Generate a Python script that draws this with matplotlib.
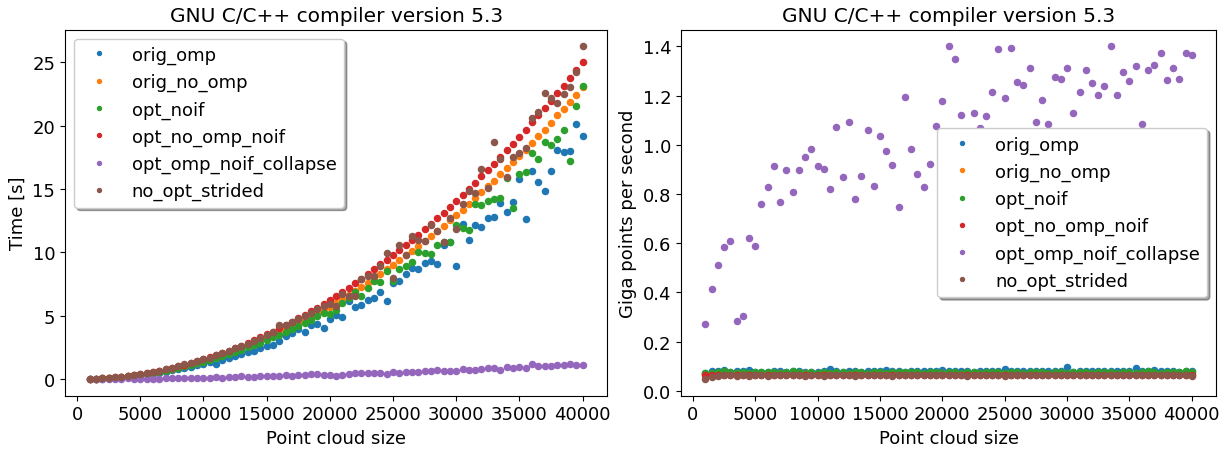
import matplotlib
matplotlib.use('Agg')
import matplotlib.pyplot as plt

# ---------------------------------------------------------------------------
# Data
# ---------------------------------------------------------------------------
sizes = [1000 + 500 * i for i in range(79)]

labels = ['orig_omp', 'orig_no_omp', 'opt_noif', 'opt_no_omp_noif',
          'opt_omp_noif_collapse', 'no_opt_strided']
TITLE = 'GNU C/C++ compiler version 5.3'

# run time [s]
t_orig_omp = [
    0.02, 0.03, 0.05, 0.08, 0.11, 0.15, 0.20, 0.25, 0.31, 0.37,
    0.44, 0.51, 0.60, 0.69, 0.77, 0.88, 0.98, 1.08, 1.20, 1.33,
    1.23, 1.55, 1.70, 1.82, 1.98, 2.12, 2.20, 2.47, 2.62, 2.73,
    2.98, 3.41, 3.67, 3.98, 3.72, 4.24, 4.37, 4.06, 4.76, 5.08,
    4.87, 6.15, 5.71, 5.89, 6.26, 6.44, 6.86, 6.18, 7.57, 7.75,
    8.27, 8.74, 8.69, 9.16, 9.34, 9.06, 10.57, 10.79, 8.95, 12.25,
    10.94, 12.14, 12.04, 12.75, 12.83, 13.87, 13.19, 14.00, 15.83, 12.67,
    16.46, 15.54, 14.81, 16.46, 18.06, 17.93, 17.97, 20.13, 19.18]
t_orig_no_omp = [
    0.02, 0.03, 0.06, 0.09, 0.13, 0.18, 0.24, 0.29, 0.36, 0.44,
    0.52, 0.61, 0.71, 0.82, 0.93, 1.05, 1.17, 1.30, 1.44, 1.59,
    1.75, 1.91, 2.08, 2.25, 2.44, 2.63, 2.83, 3.03, 3.24, 3.46,
    3.69, 3.92, 4.16, 4.41, 4.67, 4.93, 5.19, 5.47, 5.71, 6.02,
    6.30, 6.62, 6.95, 7.28, 7.62, 7.98, 8.32, 8.68, 9.02, 9.38,
    9.76, 10.13, 10.51, 10.90, 11.30, 11.71, 12.12, 12.55, 12.98, 13.37,
    13.82, 14.26, 14.76, 15.20, 15.67, 16.15, 16.64, 17.14, 17.58, 18.05,
    18.63, 19.15, 19.68, 20.20, 20.80, 21.33, 21.88, 22.42, 23.08]
t_opt_noif = [
    0.02, 0.03, 0.06, 0.09, 0.12, 0.17, 0.23, 0.28, 0.35, 0.42,
    0.50, 0.58, 0.68, 0.78, 0.89, 1.00, 1.12, 1.24, 1.38, 1.52,
    1.66, 1.83, 1.98, 2.16, 2.33, 2.52, 2.70, 2.89, 3.10, 3.31,
    3.52, 3.74, 3.97, 4.22, 4.45, 4.70, 4.96, 5.24, 5.16, 5.42,
    6.00, 6.44, 6.88, 6.55, 7.20, 7.75, 7.70, 8.50, 7.72, 8.69,
    8.95, 9.21, 10.00, 9.94, 9.87, 10.57, 10.86, 10.83, 12.20, 11.91,
    11.73, 13.79, 13.74, 14.08, 14.21, 14.26, 15.90, 13.48, 16.17, 16.36,
    17.82, 17.38, 18.71, 18.45, 18.95, 19.68, 17.22, 21.54, 23.13]
t_opt_no_omp_noif = [
    0.02, 0.04, 0.07, 0.10, 0.15, 0.20, 0.26, 0.32, 0.40, 0.48,
    0.57, 0.67, 0.78, 0.89, 1.01, 1.14, 1.27, 1.42, 1.57, 1.74,
    1.90, 2.08, 2.26, 2.45, 2.65, 2.86, 3.07, 3.30, 3.53, 3.76,
    4.01, 4.26, 4.53, 4.80, 5.08, 5.36, 5.65, 5.95, 6.28, 6.59,
    6.91, 7.22, 7.57, 7.93, 8.32, 8.69, 9.06, 9.40, 9.76, 10.18,
    10.57, 10.97, 11.41, 11.83, 12.28, 12.69, 13.14, 13.58, 14.08, 14.52,
    15.02, 15.49, 16.01, 16.48, 17.01, 17.53, 18.05, 18.58, 19.13, 19.68,
    20.25, 20.80, 21.38, 21.98, 22.58, 23.16, 23.73, 24.39, 25.00]
t_opt_omp_noif_collapse = [
    0.004, 0.005, 0.008, 0.011, 0.015, 0.043, 0.053, 0.033, 0.043, 0.040,
    0.043, 0.046, 0.064, 0.063, 0.079, 0.081, 0.085, 0.092, 0.109, 0.122,
    0.148, 0.123, 0.166, 0.143, 0.217, 0.209, 0.185, 0.252, 0.218, 0.247,
    0.278, 0.363, 0.242, 0.312, 0.368, 0.414, 0.391, 0.353, 0.31, 0.27,
    0.31, 0.39, 0.50, 0.45, 0.50, 0.50, 0.45, 0.42, 0.53, 0.45,
    0.55, 0.58, 0.58, 0.68, 0.66, 0.74, 0.66, 0.66, 0.66, 0.82,
    0.76, 0.76, 0.79, 0.86, 0.86, 0.76, 0.97, 0.89, 0.94, 0.92,
    1.23, 1.02, 1.00, 1.02, 1.13, 1.13, 1.21, 1.13, 1.15]
t_no_opt_strided = [
    0.02, 0.04, 0.07, 0.10, 0.15, 0.20, 0.26, 0.33, 0.40, 0.50,
    0.58, 0.68, 0.80, 0.91, 1.02, 1.16, 1.30, 1.42, 1.58, 1.70,
    1.92, 2.05, 2.22, 2.47, 2.63, 2.80, 3.00, 3.24, 3.45, 3.72,
    4.29, 4.29, 4.50, 4.72, 4.98, 5.20, 5.55, 5.75, 5.94, 5.76,
    6.73, 6.59, 6.59, 7.90, 8.12, 8.12, 8.95, 9.94, 7.98, 10.57,
    9.79, 11.26, 10.94, 10.91, 12.17, 11.70, 10.86, 12.69, 11.83, 13.85,
    14.84, 14.71, 16.56, 15.10, 18.74, 17.40, 15.93, 17.50, 17.85, 18.21,
    20.57, 21.09, 22.58, 22.21, 21.77, 22.50, 23.08, 24.20, 26.27]

# throughput [Giga points per second]
g_orig_omp = [
    0.072, 0.080, 0.081, 0.085, 0.077, 0.079, 0.082, 0.084, 0.078, 0.076,
    0.078, 0.079, 0.080, 0.077, 0.079, 0.080, 0.078, 0.076, 0.077, 0.080,
    0.088, 0.082, 0.078, 0.079, 0.080, 0.077, 0.079, 0.081, 0.083, 0.084,
    0.079, 0.080, 0.078, 0.082, 0.081, 0.082, 0.079, 0.081, 0.085, 0.079,
    0.081, 0.079, 0.080, 0.078, 0.080, 0.081, 0.080, 0.082, 0.088, 0.081,
    0.080, 0.079, 0.081, 0.080, 0.079, 0.080, 0.081, 0.082, 0.098, 0.078,
    0.081, 0.079, 0.080, 0.081, 0.080, 0.082, 0.079, 0.082, 0.081, 0.092,
    0.080, 0.081, 0.087, 0.080, 0.079, 0.082, 0.078, 0.080, 0.081]
g_orig_no_omp = [
    0.068, 0.070, 0.071, 0.069, 0.070, 0.072, 0.069, 0.070, 0.071, 0.069,
    0.070, 0.069, 0.071, 0.070, 0.069, 0.070, 0.071, 0.069, 0.070, 0.070,
    0.069, 0.070, 0.071, 0.070, 0.069, 0.070, 0.070, 0.071, 0.069, 0.070,
    0.070, 0.069, 0.070, 0.071, 0.070, 0.069, 0.070, 0.070, 0.071, 0.069,
    0.070, 0.070, 0.069, 0.070, 0.071, 0.069, 0.070, 0.070, 0.069, 0.070,
    0.070, 0.069, 0.070, 0.070, 0.071, 0.069, 0.070, 0.070, 0.069, 0.070,
    0.069, 0.070, 0.070, 0.069, 0.070, 0.071, 0.070, 0.069, 0.070, 0.070,
    0.070, 0.069, 0.070, 0.070, 0.069, 0.070, 0.070, 0.069, 0.069]
g_opt_noif = [
    0.074, 0.073, 0.076, 0.079, 0.075, 0.073, 0.076, 0.072, 0.078, 0.077,
    0.075, 0.078, 0.074, 0.077, 0.079, 0.075, 0.073, 0.076, 0.074, 0.075,
    0.073, 0.076, 0.075, 0.074, 0.077, 0.075, 0.074, 0.076, 0.075, 0.074,
    0.076, 0.075, 0.077, 0.076, 0.075, 0.074, 0.077, 0.075, 0.074, 0.076,
    0.075, 0.074, 0.076, 0.075, 0.074, 0.076, 0.075, 0.077, 0.074, 0.075,
    0.076, 0.074, 0.075, 0.077, 0.075, 0.074, 0.076, 0.078, 0.074, 0.075,
    0.076, 0.075, 0.074, 0.076, 0.075, 0.077, 0.074, 0.078, 0.076, 0.074,
    0.075, 0.079, 0.076, 0.074, 0.075, 0.078, 0.076, 0.079, 0.075]
g_opt_no_omp_noif = [
    0.064, 0.066, 0.065, 0.064, 0.065, 0.063, 0.064, 0.065, 0.064, 0.064,
    0.064, 0.065, 0.064, 0.064, 0.065, 0.064, 0.063, 0.064, 0.064, 0.065,
    0.064, 0.064, 0.065, 0.064, 0.064, 0.063, 0.064, 0.064, 0.065, 0.064,
    0.064, 0.063, 0.064, 0.064, 0.065, 0.064, 0.064, 0.064, 0.063, 0.064,
    0.064, 0.064, 0.063, 0.064, 0.064, 0.064, 0.064, 0.063, 0.064, 0.064,
    0.064, 0.064, 0.064, 0.063, 0.064, 0.064, 0.064, 0.064, 0.064, 0.064,
    0.064, 0.064, 0.064, 0.064, 0.064, 0.064, 0.064, 0.064, 0.064, 0.064,
    0.063, 0.064, 0.064, 0.064, 0.064, 0.064, 0.064, 0.064, 0.064]
g_opt_omp_noif_collapse = [
    0.270, 0.413, 0.510, 0.583, 0.611, 0.286, 0.303, 0.623, 0.587, 0.758,
    0.829, 0.916, 0.769, 0.896, 0.808, 0.897, 0.949, 0.985, 0.916, 0.901,
    0.819, 1.073, 0.869, 1.093, 0.780, 0.873, 1.061, 0.834, 1.034, 0.973,
    0.920, 0.749, 1.196, 0.982, 0.880, 0.827, 0.923, 1.077, 1.177, 1.401,
    1.348, 1.121, 0.980, 1.130, 1.070, 1.117, 1.216, 1.391, 1.190, 1.393,
    1.256, 1.244, 1.313, 1.094, 1.181, 1.086, 1.274, 1.266, 1.314, 1.128,
    1.216, 1.306, 1.252, 1.202, 1.238, 1.401, 1.204, 1.297, 1.258, 1.320,
    1.084, 1.304, 1.325, 1.374, 1.264, 1.314, 1.266, 1.374, 1.367]
g_no_opt_strided = [
    0.048, 0.058, 0.062, 0.064, 0.066, 0.062, 0.065, 0.061, 0.066, 0.064,
    0.062, 0.064, 0.065, 0.063, 0.064, 0.066, 0.062, 0.064, 0.063, 0.061,
    0.065, 0.063, 0.064, 0.066, 0.062, 0.064, 0.065, 0.063, 0.064, 0.066,
    0.060, 0.064, 0.064, 0.063, 0.065, 0.064, 0.063, 0.065, 0.066, 0.063,
    0.064, 0.065, 0.062, 0.064, 0.063, 0.064, 0.065, 0.063, 0.062, 0.064,
    0.063, 0.065, 0.064, 0.063, 0.064, 0.066, 0.063, 0.064, 0.065, 0.063,
    0.064, 0.063, 0.064, 0.065, 0.063, 0.064, 0.063, 0.064, 0.065, 0.063,
    0.064, 0.063, 0.065, 0.064, 0.063, 0.064, 0.065, 0.063, 0.061]

times = [t_orig_omp, t_orig_no_omp, t_opt_noif, t_opt_no_omp_noif,
         t_opt_omp_noif_collapse, t_no_opt_strided]
gps = [g_orig_omp, g_orig_no_omp, g_opt_noif, g_opt_no_omp_noif,
       g_opt_omp_noif_collapse, g_no_opt_strided]

# ---------------------------------------------------------------------------
# Plot
# ---------------------------------------------------------------------------
FS = 13
fig = plt.figure(figsize=(12.32, 4.52), dpi=100)
ax1 = fig.add_axes([0.0528, 0.1222, 0.4401, 0.8103])
ax2 = fig.add_axes([0.5528, 0.1222, 0.4343, 0.8103])

for ax, series, ylabel, loc in [(ax1, times, 'Time [s]', 'upper left'),
                                (ax2, gps, 'Giga points per second', 'center right')]:
    for vals, lab in zip(series, labels):
        ax.plot(sizes, vals, 'o', ms=4.4, label=lab)
    ax.set_title(TITLE, fontsize=14.5)
    ax.set_xlabel('Point cloud size', fontsize=FS)
    ax.set_ylabel(ylabel, fontsize=FS)
    ax.tick_params(labelsize=FS)
    ax.legend(loc=loc, fontsize=FS, shadow=True, markerscale=0.65)

fig.savefig('out.png', dpi=100)
